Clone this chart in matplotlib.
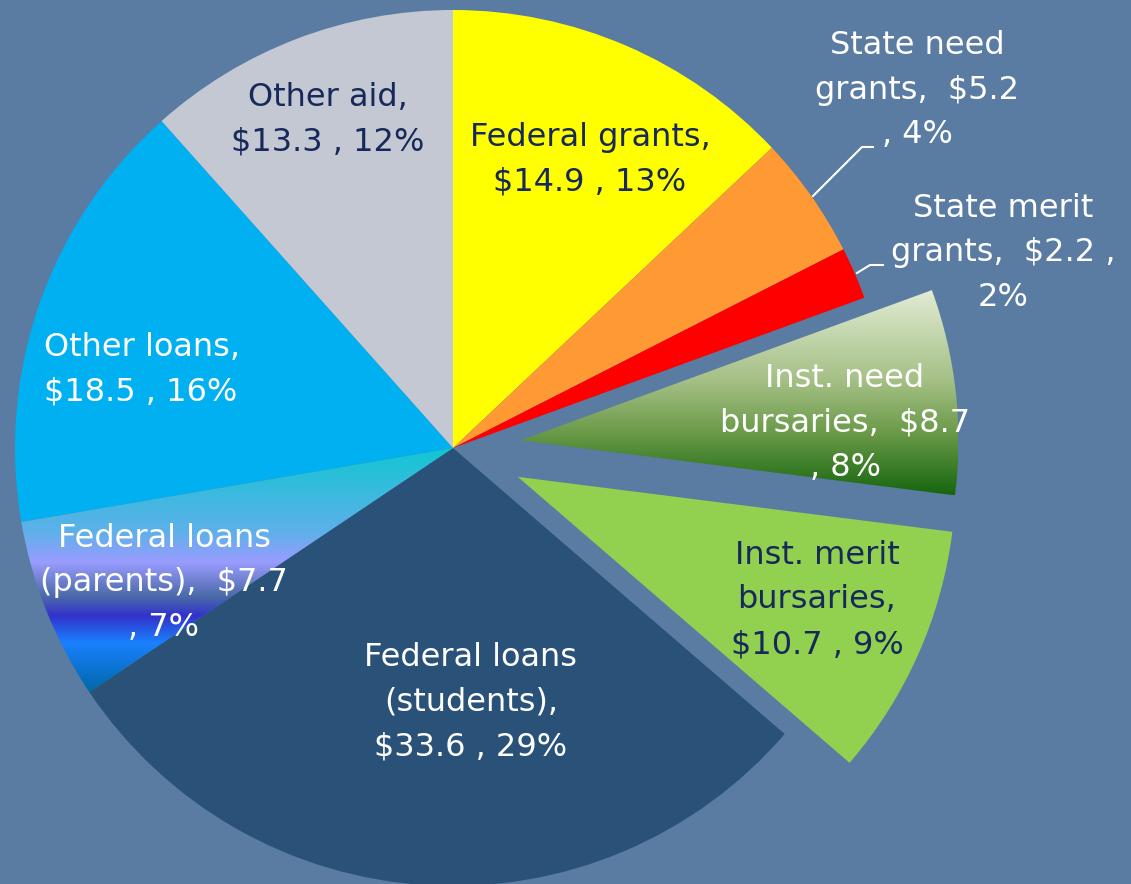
import numpy as np
import matplotlib.pyplot as plt
from matplotlib.colors import LinearSegmentedColormap

# data ($ billions, share of total aid)
categories = ["Federal grants", "State need grants", "State merit grants",
              "Inst. need bursaries", "Inst. merit bursaries",
              "Federal loans (students)", "Federal loans (parents)",
              "Other loans", "Other aid"]
values = [14.9, 5.2, 2.2, 8.7, 10.7, 33.6, 7.7, 18.5, 13.3]
percents = [13, 4, 2, 8, 9, 29, 7, 16, 12]
label_templates = [
    "Federal grants,\n${v} , {p}%",
    "State need\ngrants,  ${v}\n, {p}%",
    "State merit\ngrants,  ${v} ,\n{p}%",
    "Inst. need\nbursaries,  ${v}\n, {p}%",
    "Inst. merit\nbursaries,\n${v} , {p}%",
    "Federal loans\n(students),\n${v} , {p}%",
    "Federal loans\n(parents),  ${v}\n, {p}%",
    "Other loans,\n${v} , {p}%",
    "Other aid,\n${v} , {p}%",
]

# styling
bg = "#5a7ba2"
navy = "#16295a"
colors = ["#ffff00", "#ff9933", "#ff0000", "#8fb070", "#92d050",
          "#2a5279", "#6a8cf0", "#00b0f0", "#c4c8d2"]
explode = [0, 0, 0, 0.155, 0.162, 0, 0, 0, 0]
text_colors = [navy, "white", "white", "white", navy, "white", "white", "white", navy]
# label centres in pixels (x, y from top), alignment
label_pos = [(590, 160, "center"), (917, 90, "center"), (1003, 253, "center"),
             (845, 423, "center"), (817, 600, "center"), (471, 702, "center"),
             (164, 583, "center"), (44, 370, "left"), (328, 120, "center")]
gradients = {
    3: [(0.0, "#e2ecd4"), (0.45, "#a4bf84"), (0.7, "#6a9a48"), (1.0, "#16660f")],
    6: [(0.0, "#10c6d2"), (0.35, "#5fb0ea"), (0.47, "#9a9cff"), (0.61, "#4a6aa8"),
        (0.69, "#3232cc"), (0.80, "#1a80ff"), (1.0, "#0068a8")],
}

W, H = 1131, 884
cx, cy, R = 453, 448, 438


def px(x, y):
    return (x - cx) / R, (cy - y) / R


fig = plt.figure(figsize=(W / 100, H / 100), dpi=100)
fig.patch.set_facecolor(bg)
ax = fig.add_axes([0, 0, 1, 1])

wedges, _ = ax.pie(values, colors=colors, startangle=90, counterclock=False,
                   explode=explode, radius=1, wedgeprops=dict(linewidth=0))

# gradient fills, clipped to their wedge
for i, stops in gradients.items():
    w = wedges[i]
    ext = w.get_path().get_extents()
    cmap = LinearSegmentedColormap.from_list("g%d" % i, stops)
    grad = np.linspace(0, 1, 256).reshape(-1, 1)
    im = ax.imshow(grad, cmap=cmap, aspect="auto", interpolation="bilinear",
                   extent=[ext.x0, ext.x1, ext.y0, ext.y1], zorder=1.5)
    im.set_clip_path(w)
    w.set_facecolor("none")

# labels
for i, (x, y, ha) in enumerate(label_pos):
    tx, ty = px(x, y)
    txt = label_templates[i].format(v=values[i], p=percents[i])
    ax.text(tx, ty, txt, ha=ha, va="center", multialignment=ha,
            fontsize=23, color=text_colors[i], linespacing=1.58,
            family="DejaVu Sans", zorder=5)

# leader lines for the two small slices
for pts in ([(813, 196), (862, 147), (873, 147)],
            [(857, 273), (870, 265), (883, 265)]):
    xs, ys = zip(*[px(a, b) for a, b in pts])
    ax.plot(xs, ys, color="white", lw=1.5, zorder=4)

x0, y0 = px(0, H)
x1, y1 = px(W, 0)
ax.set_aspect("auto")
ax.set_xlim(x0, x1)
ax.set_ylim(y0, y1)
ax.axis("off")

fig.savefig("out.png", dpi=100, facecolor=bg)
